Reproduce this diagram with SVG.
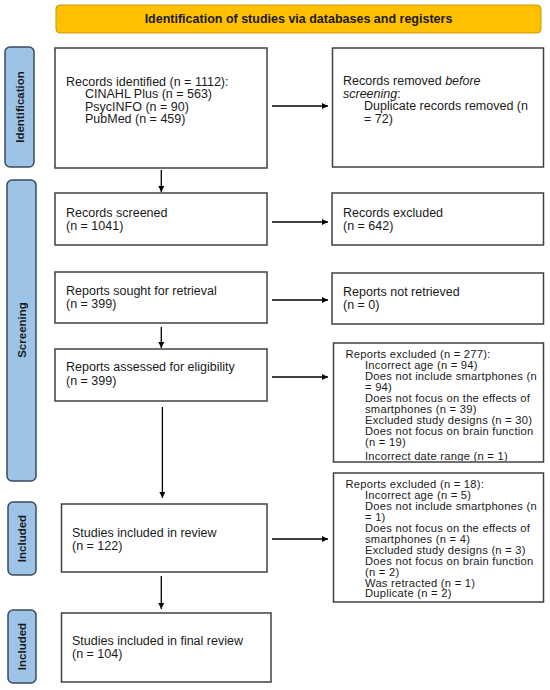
<svg xmlns="http://www.w3.org/2000/svg" width="550" height="690" viewBox="0 0 550 690">
<style>
.box{fill:#fff;stroke:#404040;stroke-width:1.5}
.side{fill:#9DC3E6;stroke:#3B4A5C;stroke-width:1.5}
.t{font-family:"Liberation Sans",Arial,sans-serif;font-size:12.5px;fill:#1a1a1a}
.s{font-family:"Liberation Sans",Arial,sans-serif;font-size:11.2px;fill:#1a1a1a;letter-spacing:0.25px}
.lab{font-family:"Liberation Sans",Arial,sans-serif;font-size:11.5px;font-weight:bold;fill:#1a1a1a}
.hd{font-family:"Liberation Sans",Arial,sans-serif;font-size:12.5px;font-weight:bold;fill:#1a1a1a}
.c{stroke:#000;stroke-width:1.3;fill:none}
</style>
<defs>
<marker id="ah" viewBox="0 0 10 10" refX="10" refY="5" markerWidth="6" markerHeight="6" markerUnits="userSpaceOnUse" orient="auto">
<path d="M0,0 L10,5 L0,10 z" fill="#000"/>
</marker>
<clipPath id="clip277"><rect x="334" y="344" width="209" height="117"/></clipPath>
</defs>
<rect width="550" height="690" fill="#fff"/>

<g id="header">
<rect x="56" y="5" width="485" height="28" rx="4" fill="#FFC000" stroke="#C99A00" stroke-width="1"/>
<text class="hd" x="298.5" y="23" text-anchor="middle">Identification of studies via databases and registers</text>
</g>

<g id="label-identification">
<rect class="side" x="5" y="47" width="29" height="120" rx="5"/>
<text class="lab" transform="translate(23.5,107) rotate(-90)" text-anchor="middle">Identification</text>
</g>
<g id="label-screening">
<rect class="side" x="7" y="180" width="29" height="301" rx="5"/>
<text class="lab" transform="translate(25.5,330) rotate(-90)" text-anchor="middle">Screening</text>
</g>
<g id="label-included-1">
<rect class="side" x="8" y="502" width="28" height="73" rx="5"/>
<text class="lab" transform="translate(26,538.5) rotate(-90)" text-anchor="middle">Included</text>
</g>
<g id="label-included-2">
<rect class="side" x="8" y="610" width="28" height="73" rx="5"/>
<text class="lab" transform="translate(26,646.5) rotate(-90)" text-anchor="middle">Included</text>
</g>

<g id="records-identified">
<rect class="box" x="55" y="48" width="212" height="120"/>
<text class="t" x="66" y="85.5">Records identified (n = 1112):</text>
<text class="t" x="85" y="98">CINAHL Plus (n = 563)</text>
<text class="t" x="85" y="110.5">PsycINFO (n = 90)</text>
<text class="t" x="85" y="123">PubMed (n = 459)</text>
</g>

<g id="records-removed">
<rect class="box" x="332.5" y="48" width="211" height="119"/>
<text class="t" x="343" y="85">Records removed <tspan font-style="italic">before</tspan></text>
<text class="t" x="343" y="97.5"><tspan font-style="italic">screening</tspan>:</text>
<text class="t" x="364" y="110">Duplicate records removed (n</text>
<text class="t" x="364" y="122.5">= 72)</text>
</g>

<g id="records-screened">
<rect class="box" x="55" y="193" width="212" height="52"/>
<text class="t" x="66" y="217">Records screened</text>
<text class="t" x="66" y="230">(n = 1041)</text>
</g>

<g id="records-excluded">
<rect class="box" x="332" y="193" width="211.5" height="52"/>
<text class="t" x="343" y="217">Records excluded</text>
<text class="t" x="343" y="230">(n = 642)</text>
</g>

<g id="reports-sought">
<rect class="box" x="55" y="272" width="212" height="51"/>
<text class="t" x="66" y="295">Reports sought for retrieval</text>
<text class="t" x="66" y="308">(n = 399)</text>
</g>

<g id="reports-not-retrieved">
<rect class="box" x="332" y="273" width="211.5" height="51"/>
<text class="t" x="343" y="296">Reports not retrieved</text>
<text class="t" x="343" y="309">(n = 0)</text>
</g>

<g id="reports-assessed">
<rect class="box" x="55" y="349" width="212" height="52"/>
<text class="t" x="66" y="371">Reports assessed for eligibility</text>
<text class="t" x="66" y="385">(n = 399)</text>
</g>

<g id="reports-excluded-277">
<rect class="box" x="333.5" y="343" width="210" height="119"/>
<g clip-path="url(#clip277)">
<text class="s" x="345.5" y="358">Reports excluded (n = 277):</text>
<text class="s" x="365" y="369">Incorrect age  (n = 94)</text>
<text class="s" x="365" y="380">Does  not include  smartphones (n</text>
<text class="s" x="365" y="391">= 94)</text>
<text class="s" x="365" y="402">Does  not focus  on the effects of</text>
<text class="s" x="365" y="413">smartphones (n = 39)</text>
<text class="s" x="365" y="424">Excluded study designs (n = 30)</text>
<text class="s" x="365" y="435">Does not focus on brain function</text>
<text class="s" x="365" y="446">(n = 19)</text>
<text class="s" x="365" y="460.3">Incorrect date range  (n = 1)</text>
</g>
</g>

<g id="studies-included">
<rect class="box" x="61.5" y="504" width="205.5" height="68"/>
<text class="t" x="72" y="537">Studies included in review</text>
<text class="t" x="72" y="550">(n = 122)</text>
</g>

<g id="reports-excluded-18">
<rect class="box" x="333.5" y="473" width="210" height="129"/>
<text class="s" x="345.5" y="488">Reports excluded (n = 18):</text>
<text class="s" x="365" y="499">Incorrect age  (n = 5)</text>
<text class="s" x="365" y="510">Does  not include  smartphones (n</text>
<text class="s" x="365" y="520.5">= 1)</text>
<text class="s" x="365" y="531.5">Does  not focus  on the effects of</text>
<text class="s" x="365" y="542.5">smartphones (n = 4)</text>
<text class="s" x="365" y="553.5">Excluded study designs (n = 3)</text>
<text class="s" x="365" y="564.5">Does not focus on brain function</text>
<text class="s" x="365" y="575.5">(n = 2)</text>
<text class="s" x="365" y="586.5">Was retracted (n =  1)</text>
<text class="s" x="365" y="597">Duplicate (n = 2)</text>
</g>

<g id="studies-final">
<rect class="box" x="61.5" y="613" width="209.5" height="69"/>
<text class="t" x="72" y="645">Studies included in final review</text>
<text class="t" x="72" y="658">(n = 104)</text>
</g>

<g id="connectors">
<line class="c" x1="272" y1="106" x2="328" y2="106" marker-end="url(#ah)"/>
<line class="c" x1="161.3" y1="170" x2="161.3" y2="192" marker-end="url(#ah)"/>
<line class="c" x1="272" y1="222" x2="328" y2="222" marker-end="url(#ah)"/>
<line class="c" x1="272" y1="300" x2="328" y2="300" marker-end="url(#ah)"/>
<line class="c" x1="161.3" y1="327" x2="161.3" y2="348" marker-end="url(#ah)"/>
<line class="c" x1="272" y1="377" x2="328" y2="377" marker-end="url(#ah)"/>
<line class="c" x1="162.4" y1="407" x2="162.4" y2="498" marker-end="url(#ah)"/>
<line class="c" x1="272" y1="539" x2="328" y2="539" marker-end="url(#ah)"/>
<line class="c" x1="161.3" y1="576" x2="161.3" y2="609" marker-end="url(#ah)"/>
</g>
</svg>
